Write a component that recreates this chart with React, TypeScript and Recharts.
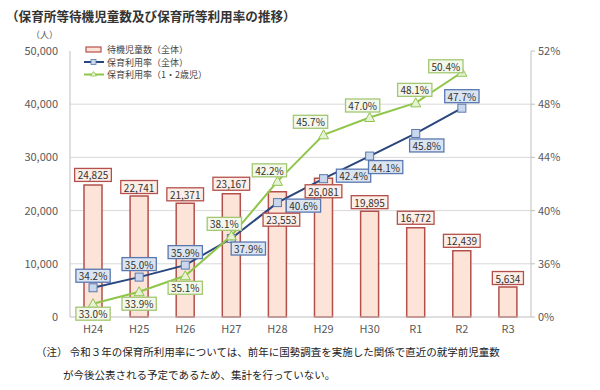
import React from 'react';
import {
  ComposedChart,
  Bar,
  Line,
  XAxis,
  YAxis,
  CartesianGrid,
  LabelList,
  Legend,
} from 'recharts';

// 年度
const years = ['H24', 'H25', 'H26', 'H27', 'H28', 'H29', 'H30', 'R1', 'R2', 'R3'];
// 待機児童数（全体）
const waiting = [24825, 22741, 21371, 23167, 23553, 26081, 19895, 16772, 12439, 5634];
// 保育利用率（全体）
const rateAll = [34.2, 35.0, 35.9, 37.9, 40.6, 42.4, 44.1, 45.8, 47.7, null];
// 保育利用率（1・2歳児）
const rateYoung = [33.0, 33.9, 35.1, 38.1, 42.2, 45.7, 47.0, 48.1, 50.4, null];

const leftTicks = [0, 10000, 20000, 30000, 40000, 50000];
const rightTicks = [32, 36, 40, 44, 48, 52];

// label box offsets (dx, dy) from each point / bar top
const barLabelShift = [[0, -10], [0, -9], [0, -9], [0, -10], [4, 28], [0, 13], [0, -9], [0, -10], [0, -10], [0, -9]];
const allLabelShift = [[0, -12], [0, -13], [0, -13], [17, 10], [26, 3], [30, -3], [16, 11], [11, 12], [0, -12]];
const youngLabelShift = [[0, 10], [0, 12], [0, 12], [-7, -12], [-8, -11], [-13, -13], [-7, -12], [-1, -13], [-16, -6]];

const data = years.map((name, i) => ({
  name,
  waiting: waiting[i],
  all: rateAll[i],
  young: rateYoung[i],
}));

const FONT = '"Noto Sans CJK JP", "Noto Sans", sans-serif';
const RED = '#b4504b';
const BAR_FILL = '#fce4d8';
const NAVY = '#29467f';
const BLUE_BOX = '#dbe5f2';
const BLUE_EDGE = '#5a78b0';
const GREEN = '#8fc549';
const GREEN_BOX = '#f3f8ea';
const GREEN_EDGE = '#a3c773';

const textW = (s: string, fs: number) => {
  let w = 0;
  for (const c of s) {
    if (c === ',' || c === '.') w += 0.27;
    else if (c === '%') w += 0.88;
    else w += 0.56;
  }
  return w * fs;
};

const Box = ({ cx, cy, text, fill, stroke }: any) => {
  const fs = 10;
  const w = textW(text, fs) + 6;
  const h = 13;
  return (
    <g>
      <rect x={cx - w / 2} y={cy - h / 2} width={w} height={h} fill={fill} stroke={stroke} strokeWidth={1.3} />
      <text x={cx} y={cy} textAnchor="middle" dominantBaseline="central" fontSize={fs} fill="#333" fontFamily={FONT}>
        {text}
      </text>
    </g>
  );
};

const renderBarLabel = (props: any) => {
  const vb = props.viewBox || {};
  const x = props.x ?? vb.x;
  const y = props.y ?? vb.y;
  const w = props.width ?? vb.width;
  const i = props.index;
  const [dx, dy] = barLabelShift[i];
  return (
    <Box
      key={`bl${i}`}
      cx={x + w / 2 + dx}
      cy={y + dy}
      text={Number(props.value).toLocaleString('en-US')}
      fill="#fdeee7"
      stroke={RED}
    />
  );
};

const squareDot = (props: any) => {
  const { cx, cy, index, value } = props;
  if (cy == null || value == null) return <g key={`sq${index}`} />;
  const [dx, dy] = allLabelShift[index];
  return (
    <g key={`sq${index}`}>
      <rect x={cx - 4} y={cy - 4} width={8} height={8} fill="#c9d7ec" stroke={BLUE_EDGE} strokeWidth={1} />
      <Box cx={cx + dx} cy={cy + dy} text={`${Number(value).toFixed(1)}%`} fill={BLUE_BOX} stroke={BLUE_EDGE} />
    </g>
  );
};

const triangleDot = (props: any) => {
  const { cx, cy, index, value } = props;
  if (cy == null || value == null) return <g key={`tr${index}`} />;
  const [dx, dy] = youngLabelShift[index];
  return (
    <g key={`tr${index}`}>
      <path d={`M${cx},${cy - 5} L${cx + 5},${cy + 4} L${cx - 5},${cy + 4} Z`} fill="#e6f1d6" stroke={GREEN} strokeWidth={1} />
      <Box cx={cx + dx} cy={cy + dy} text={`${Number(value).toFixed(1)}%`} fill={GREEN_BOX} stroke={GREEN_EDGE} />
    </g>
  );
};

const renderLegend = () => (
  <svg width={150} height={40} style={{ fontFamily: FONT }}>
    <rect x={8} y={4} width={15} height={5} fill={BAR_FILL} stroke={RED} strokeWidth={1.2} />
    <text x={29} y={6.5} dominantBaseline="central" fontSize={9} fill="#444">待機児童数（全体）</text>
    <line x1={6} y1={19} x2={26} y2={19} stroke={NAVY} strokeWidth={2} />
    <rect x={13} y={16.5} width={5} height={5} fill="#c9d7ec" stroke={BLUE_EDGE} strokeWidth={0.8} />
    <text x={29} y={19} dominantBaseline="central" fontSize={9} fill="#444">保育利用率（全体）</text>
    <line x1={6} y1={31.5} x2={26} y2={31.5} stroke={GREEN} strokeWidth={2} />
    <path d="M15.5,28.5 L18.5,33 L12.5,33 Z" fill="#e6f1d6" stroke={GREEN} strokeWidth={0.8} />
    <text x={29} y={31.5} dominantBaseline="central" fontSize={9} fill="#444">保育利用率（1・2歳児）</text>
  </svg>
);

export default function App() {
  return (
    <div style={{ position: 'absolute', left: 0, top: 0, width: 600, height: 390, background: '#fff', fontFamily: FONT }}>
      <div style={{ position: 'absolute', left: 6, top: 6, fontSize: 12.6, fontWeight: 700, color: '#333', whiteSpace: 'nowrap' }}>
        （保育所等待機児童数及び保育所等利用率の推移）
      </div>
      <div style={{ position: 'absolute', left: 31, top: 28, fontSize: 9, color: '#555' }}>（人）</div>
      <ComposedChart
        width={600}
        height={340}
        data={data}
        margin={{ top: 51, right: 19, bottom: 3, left: 10 }}
        style={{ position: 'absolute', left: 0, top: 0 }}
      >
        <CartesianGrid
          yAxisId="left"
          vertical={false}
          stroke="#d9d9d9"
          horizontalValues={[10000, 20000, 30000, 40000]}
        />
        <XAxis
          dataKey="name"
          axisLine={{ stroke: '#bfbfbf' }}
          tickLine={false}
          tick={{ fill: '#595959', fontSize: 11, fontFamily: FONT }}
          height={20}
          interval={0}
        />
        <YAxis
          yAxisId="left"
          domain={[0, 50000]}
          ticks={leftTicks}
          width={60}
          axisLine={{ stroke: '#bfbfbf' }}
          tickLine={false}
          tickSize={6}
          tickMargin={6}
          tick={{ fill: '#595959', fontSize: 11, fontFamily: FONT }}
          tickFormatter={(v) => Number(v).toLocaleString('en-US')}
        />
        <YAxis
          yAxisId="right"
          orientation="right"
          domain={[32, 52]}
          ticks={rightTicks}
          width={50}
          axisLine={{ stroke: '#bfbfbf' }}
          tickLine={{ stroke: '#bfbfbf' }}
          tickSize={4}
          tickMargin={3}
          tick={{ fill: '#595959', fontSize: 11, fontFamily: FONT }}
          tickFormatter={(v) => (v === 32 ? '0%' : `${v}%`)}
        />
        <Legend
          layout="vertical"
          align="center"
          verticalAlign="middle"
          content={renderLegend}
          wrapperStyle={{ position: 'absolute', left: 78, top: 43, width: 150, height: 40 }}
        />
        <Bar
          yAxisId="left"
          dataKey="waiting"
          barSize={18}
          fill={BAR_FILL}
          stroke={RED}
          strokeWidth={1.5}
          isAnimationActive={false}
        >
          <LabelList dataKey="waiting" content={renderBarLabel} />
        </Bar>
        <Line
          yAxisId="right"
          dataKey="all"
          stroke={NAVY}
          strokeWidth={2}
          dot={squareDot}
          activeDot={false}
          isAnimationActive={false}
        />
        <Line
          yAxisId="right"
          dataKey="young"
          stroke={GREEN}
          strokeWidth={2}
          dot={triangleDot}
          activeDot={false}
          isAnimationActive={false}
        />
      </ComposedChart>
      <div style={{ position: 'absolute', left: 36, top: 344, fontSize: 10.5, color: '#222', whiteSpace: 'nowrap' }}>
        （注） 令和３年の保育所利用率については、前年に国勢調査を実施した関係で直近の就学前児童数
      </div>
      <div style={{ position: 'absolute', left: 63, top: 367, fontSize: 10.5, color: '#222', whiteSpace: 'nowrap' }}>
        が今後公表される予定であるため、集計を行っていない。
      </div>
    </div>
  );
}
